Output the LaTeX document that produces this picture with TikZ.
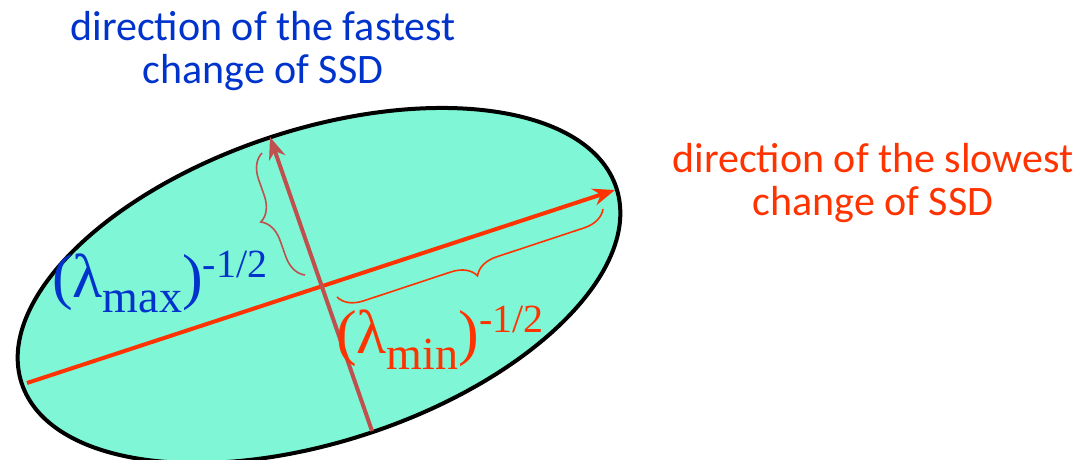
\documentclass[tikz,border=0pt]{standalone}
\usepackage{fontspec}
\setmainfont{Carlito}
\newfontfamily\lamfont{Liberation Serif}
\usetikzlibrary{arrows.meta,decorations.pathreplacing}
\definecolor{aqua}{RGB}{127,246,214}
\definecolor{fastblue}{RGB}{0,51,204}
\definecolor{slowred}{RGB}{255,51,0}
\definecolor{axisbrown}{RGB}{192,80,77}
\begin{document}
\begin{tikzpicture}[x=1pt,y=-1pt,
  caption/.style={font=\fontsize{42}{43}\selectfont, align=center, inner sep=0pt, anchor=base},
  axisarrow/.style={line width=4pt, -{Stealth[length=22pt,width=17pt,inset=7pt]}},
  bracestyle/.style={decorate, decoration={brace, amplitude=24pt}, line width=1.6pt},
  lamlbl/.style={inner sep=0pt, anchor=base west, font=\lamfont\fontsize{62}{62}\selectfont}]
\useasboundingbox (0,0) rectangle (1090,459);
% ellipse
\draw[line width=4pt, fill=aqua, rotate around={18.2:(319,285.5)}]
  (319,285.5) ellipse [x radius=313, y radius=156];
% axis end points
\coordinate (L) at (27,383);
\coordinate (R) at (615,190);
\coordinate (B) at (372,431);
\coordinate (T) at (270,137);
\coordinate (b1s) at (305,275);
\coordinate (b1e) at (262,153);
\coordinate (b2s) at (603,209);
\coordinate (b2e) at (337,297);
% axes
\draw[axisarrow, slowred] (L) -- (R);
\draw[axisarrow, axisbrown] (B) -- (T);
% braces
\draw[bracestyle, axisbrown] (b1s) -- (b1e);
\draw[bracestyle, slowred] (b2s) -- (b2e);
% labels
\node[lamlbl, text=fastblue] (lmax) at (52,297)
  {(λ\raisebox{-15pt}{\fontsize{46}{46}\selectfont max})\raisebox{20pt}{\fontsize{40}{40}\selectfont -1/2}};
\node[lamlbl, text=slowred] (lmin) at (336,353)
  {(λ\raisebox{-16pt}{\fontsize{46}{46}\selectfont min})\raisebox{21pt}{\fontsize{40}{40}\selectfont -1/2}};
\node[caption, text=fastblue] (fast) at (263,83) {direction of the fastest\\change of SSD};
\node[caption, text=slowred] (slow) at (873,215) {direction of the slowest\\change of SSD};
\end{tikzpicture}
\end{document}
